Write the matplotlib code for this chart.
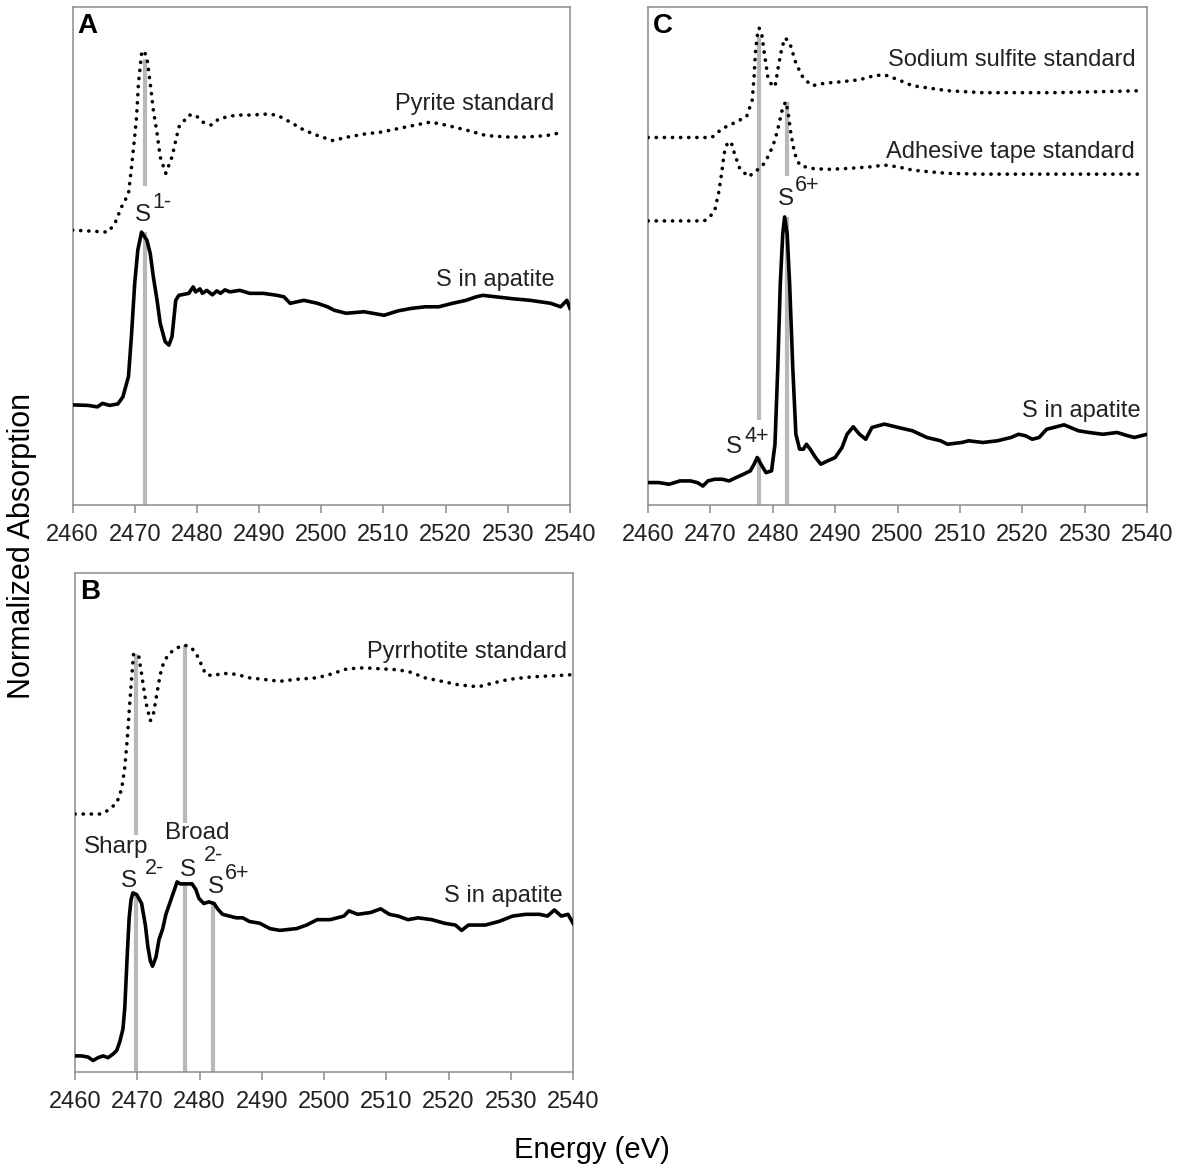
import numpy as np
import matplotlib
matplotlib.use("Agg")
from matplotlib import pyplot as plt

plt.rcParams['font.family'] = ['Liberation Sans', 'DejaVu Sans']

# ---- panel A: pyrite ----
a_pyr_x = [2460, 2465.7, 2466.8, 2467.9, 2469.0, 2469.5, 2470.0, 2470.3, 2470.6, 2471.1,
           2471.4, 2471.95, 2472.5, 2473.0, 2473.6, 2474.1, 2475.0, 2476.0, 2476.6, 2477.1,
           2478.7, 2479.8, 2480.9, 2482.3, 2483.6, 2486.3, 2488.5, 2491.2, 2492.9, 2495.0,
           2497.2, 2499.4, 2501.8, 2504.3, 2507.0, 2509.7, 2512.4, 2515.1, 2517.6, 2520.0,
           2523.3, 2526.5, 2529.8, 2533.1, 2536.3, 2539.0]
a_pyr_y = [0.552, 0.548, 0.565, 0.599, 0.625, 0.680, 0.740, 0.779, 0.846, 0.906,
           0.913, 0.900, 0.846, 0.793, 0.746, 0.699, 0.666, 0.699, 0.732, 0.759,
           0.783, 0.783, 0.769, 0.763, 0.776, 0.783, 0.783, 0.785, 0.783, 0.769,
           0.753, 0.742, 0.732, 0.739, 0.745, 0.749, 0.756, 0.763, 0.769, 0.763,
           0.753, 0.742, 0.739, 0.739, 0.742, 0.749]

a_apa_x = [2460, 2462.5, 2464.0, 2464.8, 2466.0, 2467.3, 2468.1, 2469.0, 2469.5, 2470.0,
           2470.5, 2471.1, 2471.95, 2472.5, 2473.0, 2473.6, 2474.1, 2474.9, 2475.5, 2476.0,
           2476.6, 2477.1, 2478.7, 2479.4, 2479.8, 2480.5, 2480.9, 2481.6, 2482.5, 2483.2,
           2483.8, 2484.5, 2485.3, 2486.9, 2488.5, 2490.7, 2492.9, 2494.0, 2495.0, 2497.2,
           2499.4, 2501.0, 2502.1, 2504.0, 2506.9, 2510.1, 2512.4, 2514.6, 2516.7, 2518.9,
           2521.1, 2523.3, 2524.9, 2526.0, 2528.1, 2530.9, 2533.6, 2536.9, 2538.5, 2539.5,
           2540]
a_apa_y = [0.201, 0.200, 0.197, 0.204, 0.200, 0.203, 0.217, 0.258, 0.344, 0.445,
           0.512, 0.548, 0.532, 0.505, 0.458, 0.411, 0.365, 0.328, 0.321, 0.338,
           0.411, 0.421, 0.425, 0.438, 0.428, 0.434, 0.425, 0.431, 0.422, 0.430,
           0.425, 0.432, 0.428, 0.431, 0.425, 0.425, 0.421, 0.418, 0.405, 0.411,
           0.405, 0.398, 0.391, 0.385, 0.388, 0.381, 0.390, 0.395, 0.398, 0.398,
           0.405, 0.411, 0.418, 0.421, 0.418, 0.414, 0.411, 0.405, 0.398, 0.411,
           0.395]
a_mark = [2471.7]
a_mark_seg = [[(0.64, 0.895), (0.0, 0.548)]]

# ---- panel C: sodium sulfite, adhesive tape, apatite ----
c_sul_x = [2460, 2470.2, 2470.7, 2471.9, 2473.6, 2475.8, 2476.7, 2477.0, 2477.2, 2477.5,
           2477.8, 2478.2, 2478.65, 2479.2, 2479.8, 2480.35, 2480.9, 2481.5, 2482.05, 2482.9,
           2483.7, 2484.9, 2486.3, 2488.3, 2491.1, 2493.9, 2496.2, 2497.9, 2500.1, 2502.4,
           2505.2, 2508.0, 2513.7, 2519.4, 2525.0, 2530.7, 2539.1]
c_sul_y = [0.738, 0.738, 0.743, 0.756, 0.766, 0.780, 0.813, 0.860, 0.907, 0.941,
           0.958, 0.948, 0.907, 0.860, 0.844, 0.840, 0.881, 0.921, 0.938, 0.921,
           0.887, 0.857, 0.842, 0.847, 0.850, 0.854, 0.862, 0.864, 0.854, 0.842,
           0.837, 0.832, 0.828, 0.828, 0.828, 0.8295, 0.832]

c_tape_x = [2460, 2469.0, 2469.9, 2470.7, 2471.3, 2471.8, 2472.2, 2472.7, 2473.3, 2473.85,
            2474.7, 2476.1, 2477.5, 2478.65, 2479.5, 2480.35, 2480.9, 2481.5, 2482.05, 2482.4,
            2482.9, 2483.5, 2484.3, 2486.0, 2488.8, 2492.2, 2495.6, 2497.9, 2500.1, 2502.4,
            2505.2, 2508.0, 2513.7, 2520.0, 2530.0, 2539.1]
c_tape_y = [0.5705, 0.5705, 0.5785, 0.592, 0.6255, 0.666, 0.706, 0.726, 0.7295, 0.706,
            0.676, 0.659, 0.6725, 0.686, 0.706, 0.733, 0.760, 0.793, 0.810, 0.793,
            0.746, 0.706, 0.6826, 0.676, 0.674, 0.676, 0.679, 0.6826, 0.679, 0.6725,
            0.669, 0.666, 0.6644, 0.6644, 0.6644, 0.6644]

c_apa_x = [2460, 2461.7, 2463.4, 2465.1, 2466.8, 2467.9, 2468.8, 2469.6, 2470.7, 2471.9,
           2473.0, 2474.1, 2475.3, 2476.4, 2477.0, 2477.5, 2478.1, 2478.9, 2479.8, 2480.35,
           2480.8, 2481.2, 2481.6, 2481.9, 2482.3, 2482.7, 2483.2, 2483.7, 2484.3, 2484.9,
           2485.4, 2486.0, 2486.85, 2487.7, 2488.8, 2490.0, 2491.1, 2491.9, 2492.9, 2493.9,
           2494.9, 2495.9, 2497.9, 2500.1, 2502.4, 2504.7, 2506.9, 2508.0, 2510.3, 2511.4,
           2513.7, 2516.0, 2518.2, 2519.4, 2520.5, 2521.6, 2522.7, 2523.9, 2526.7, 2529.0,
           2530.7, 2532.9, 2535.2, 2536.9, 2538.0, 2540]
c_apa_y = [0.045, 0.045, 0.0416, 0.0483, 0.0483, 0.045, 0.038, 0.0483, 0.0517, 0.0517,
           0.0483, 0.055, 0.0617, 0.0685, 0.0819, 0.0953, 0.0819, 0.065, 0.0685, 0.122,
           0.2765, 0.444, 0.545, 0.5785, 0.545, 0.444, 0.2765, 0.142, 0.112, 0.112,
           0.122, 0.112, 0.0953, 0.0819, 0.0886, 0.0953, 0.1154, 0.142, 0.157, 0.142,
           0.132, 0.1557, 0.1624, 0.1557, 0.149, 0.1356, 0.1289, 0.122, 0.1255, 0.1289,
           0.1255, 0.1289, 0.1356, 0.142, 0.139, 0.132, 0.1356, 0.152, 0.161, 0.149,
           0.1456, 0.142, 0.1456, 0.139, 0.1356, 0.142]
c_mark = [2477.85, 2482.2]
c_mark_seg = [[(0.171, 0.94), (0.0, 0.096)], [(0.66, 0.81), (0.0, 0.578)]]

# ---- panel B: pyrrhotite, apatite ----
b_pyr_x = [2460, 2464.2, 2465.3, 2466.7, 2467.5, 2468.0, 2468.4, 2468.8, 2469.1, 2469.4,
           2470.2, 2470.7, 2471.4, 2472.1, 2472.6, 2473.2, 2473.7, 2474.2, 2475.0, 2476.1,
           2477.5, 2478.6, 2479.4, 2480.2, 2481.0, 2482.1, 2483.7, 2485.9, 2488.0, 2490.2,
           2492.9, 2495.6, 2498.9, 2501.0, 2503.7, 2506.4, 2509.1, 2511.9, 2514.0, 2516.2,
           2518.9, 2521.6, 2524.8, 2527.0, 2529.7, 2533.5, 2536.75, 2539.5]
b_pyr_y = [0.517, 0.517, 0.5244, 0.539, 0.5675, 0.6106, 0.668, 0.740, 0.790, 0.837,
           0.837, 0.797, 0.740, 0.704, 0.718, 0.7615, 0.797, 0.819, 0.837, 0.848,
           0.856, 0.851, 0.8405, 0.819, 0.797, 0.794, 0.799, 0.797, 0.790, 0.787,
           0.783, 0.787, 0.790, 0.797, 0.808, 0.810, 0.808, 0.806, 0.801, 0.790,
           0.783, 0.776, 0.772, 0.779, 0.787, 0.792, 0.794, 0.796]

b_apa_x = [2460, 2461.0, 2462.1, 2462.9, 2463.7, 2464.5, 2465.3, 2466.1, 2466.7, 2467.2,
           2467.7, 2468.0, 2468.4, 2468.7, 2469.0, 2469.3, 2469.9, 2470.7, 2471.3, 2471.7,
           2472.1, 2472.45, 2473.0, 2473.5, 2474.1, 2474.6, 2475.2, 2475.7, 2476.4, 2476.9,
           2477.75, 2478.8, 2479.4, 2479.9, 2480.7, 2481.5, 2482.35, 2482.9, 2483.7, 2484.8,
           2485.9, 2486.95, 2488.0, 2489.7, 2491.3, 2492.9, 2495.6, 2497.2, 2498.9, 2501.0,
           2503.2, 2504.0, 2505.4, 2507.5, 2509.1, 2510.5, 2511.9, 2513.5, 2515.1, 2517.3,
           2519.4, 2521.1, 2522.1, 2523.2, 2525.9, 2528.1, 2530.3, 2532.4, 2534.6, 2535.9,
           2537.0, 2538.1, 2539.2, 2540]
b_apa_y = [0.0323, 0.0323, 0.030, 0.023, 0.0287, 0.0323, 0.0287, 0.0359, 0.0431, 0.061,
           0.0862, 0.1293, 0.237, 0.309, 0.345, 0.359, 0.3556, 0.3376, 0.2945, 0.2514,
           0.2227, 0.212, 0.230, 0.2658, 0.2874, 0.316, 0.3376, 0.3556, 0.381, 0.377,
           0.377, 0.377, 0.366, 0.348, 0.3376, 0.341, 0.3376, 0.327, 0.316, 0.3125,
           0.309, 0.309, 0.3017, 0.298, 0.2874, 0.2838, 0.2874, 0.2945, 0.3053, 0.3053,
           0.3125, 0.323, 0.316, 0.3197, 0.327, 0.316, 0.3125, 0.3053, 0.309, 0.3053,
           0.298, 0.2945, 0.2838, 0.2945, 0.2945, 0.3017, 0.3125, 0.316, 0.316, 0.3125,
           0.3247, 0.3125, 0.316, 0.298]
b_mark = [2469.85, 2477.6, 2482.2]
b_mark_seg = [[(0.474, 0.837), (0.0, 0.359)], [(0.500, 0.856), (0.0, 0.38)], [(0.0, 0.339)]]

ticks = list(range(2460, 2541, 10))
ink = '#222222'
spine = '#8c8c8c'
grey = '#b8b8b8'


def setup(ax, letter):
    ax.set_xlim(2460, 2540)
    ax.set_ylim(0, 1)
    ax.set_xticks(ticks)
    ax.set_yticks([])
    for s in ax.spines.values():
        s.set_color(spine)
        s.set_linewidth(1.1)
    ax.tick_params(axis='x', direction='out', length=6, width=1.1, color=spine,
                   labelsize=17, labelcolor=ink, pad=8)
    ax.text(0.01, 0.962, letter, transform=ax.transAxes, fontsize=20,
            fontweight='bold', ha='left', va='center', color='black')


def markers(ax, xs, segs):
    for x, ss in zip(xs, segs):
        for y0, y1 in ss:
            ax.plot([x, x], [y0, y1], color=grey, lw=3, zorder=1, solid_capstyle='butt')


def dotted(ax, x, y):
    ax.plot(x, y, color='black', lw=2.6, linestyle=(0, (0.05, 2.2)),
            dash_capstyle='round', zorder=3)


def solid(ax, x, y):
    ax.plot(x, y, color='black', lw=2.6, zorder=3, solid_joinstyle='round')


def label(ax, x, y, s, ha='right', size=17):
    ax.text(x, y, s, ha=ha, va='center', fontsize=size, color=ink)


fig = plt.figure(figsize=(11.83, 11.73), dpi=100)
axA = fig.add_axes([0.0613, 0.5695, 0.4205, 0.4245])
axC = fig.add_axes([0.5478, 0.5695, 0.4218, 0.4245])
axB = fig.add_axes([0.0634, 0.0861, 0.4210, 0.4254])

# A
setup(axA, 'A')
markers(axA, a_mark, a_mark_seg)
dotted(axA, a_pyr_x, a_pyr_y)
solid(axA, a_apa_x, a_apa_y)
label(axA, 2537.5, 0.806, 'Pyrite standard')
label(axA, 2537.5, 0.4515, 'S in apatite')
label(axA, 2471.4, 0.582, 'S', ha='center', size=17.5)
label(axA, 2472.8, 0.607, '1-', ha='left', size=15.5)

# C
setup(axC, 'C')
markers(axC, c_mark, c_mark_seg)
dotted(axC, c_sul_x, c_sul_y)
dotted(axC, c_tape_x, c_tape_y)
solid(axC, c_apa_x, c_apa_y)
label(axC, 2538.1, 0.894, 'Sodium sulfite standard')
label(axC, 2538.1, 0.709, 'Adhesive tape standard')
label(axC, 2538.9, 0.189, 'S in apatite')
label(axC, 2473.8, 0.116, 'S', ha='center', size=17.5)
label(axC, 2475.5, 0.138, '4+', ha='left', size=15.5)
label(axC, 2482.1, 0.615, 'S', ha='center', size=17.5)
label(axC, 2483.6, 0.641, '6+', ha='left', size=15.5)

# B
setup(axB, 'B')
markers(axB, b_mark, b_mark_seg)
dotted(axB, b_pyr_x, b_pyr_y)
solid(axB, b_apa_x, b_apa_y)
label(axB, 2539.0, 0.842, 'Pyrrhotite standard')
label(axB, 2538.3, 0.352, 'S in apatite')
label(axB, 2466.6, 0.451, 'Sharp', ha='center', size=17.5)
label(axB, 2468.7, 0.383, 'S', ha='center', size=17.5)
label(axB, 2472.7, 0.407, '2-', ha='center', size=15.5)
label(axB, 2479.7, 0.479, 'Broad', ha='center', size=17.5)
label(axB, 2478.15, 0.405, 'S', ha='center', size=17.5)
label(axB, 2482.2, 0.433, '2-', ha='center', size=15.5)
label(axB, 2482.65, 0.371, 'S', ha='center', size=17.5)
label(axB, 2484.1, 0.397, '6+', ha='left', size=15.5)

fig.text(0.0186, 0.535, 'Normalized Absorption', rotation=90, ha='center', va='center',
         fontsize=22, color='black')
fig.text(0.5004, 0.0196, 'Energy (eV)', ha='center', va='center', fontsize=21, color='black')

fig.savefig('out.png', dpi=100)
